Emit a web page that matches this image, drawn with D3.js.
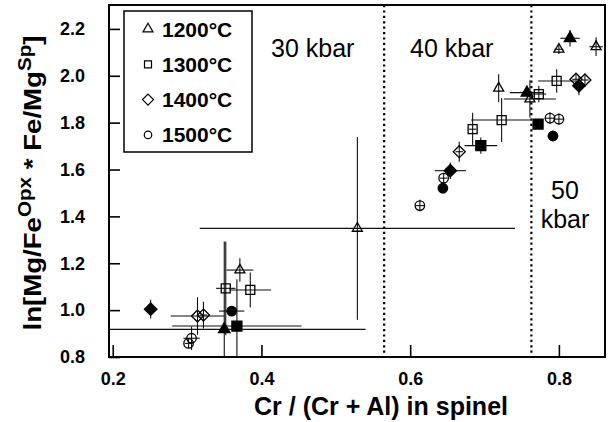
<!DOCTYPE html>
<html>
<head>
<meta charset="utf-8">
<script src="https://cdn.jsdelivr.net/npm/d3@7"></script>
<style>
  body { margin: 0; background: #fff; }
  svg { display: block; }
  text { font-family: "Liberation Sans", Arial, Helvetica, sans-serif; fill: #000; }
</style>
</head>
<body>
<svg id="chart" width="609" height="422"></svg>
<script>
// Axis ticks
const xTicks = [0.2, 0.4, 0.6, 0.8];
const yTicks = [0.8, 1.0, 1.2, 1.4, 1.6, 1.8, 2.0, 2.2];

// Series names (legend order) and marker shapes
const temperatures = ["1200°C", "1300°C", "1400°C", "1500°C"];
const shapes = ["triangle", "square", "diamond", "circle"];

// Pressure field boundaries (Cr#) and field labels
const boundaries = [0.565, 0.763];
const fieldLabels = ["30 kbar", "40 kbar", "50", "kbar"];

// Each row: [Cr/(Cr+Al), ln K, x error, y error, filled (1) / open (0)]
const t1200 = [
  [0.529, 1.349, 0.212, 0.390, 0],
  [0.371, 1.171, 0.018, 0.050, 0],
  [0.350, 0.918, 0.190, 0.375, 1],
  [0.719, 1.947, 0.000, 0.060, 0],
  [0.757, 1.928, 0.023, 0.000, 1],
  [0.761, 1.901, 0.035, 0.080, 0],
  [0.800, 2.113, 0.006, 0.020, 0],
  [0.815, 2.160, 0.013, 0.035, 1],
  [0.850, 2.124, 0.009, 0.040, 0]
];
const t1300 = [
  [0.352, 1.093, 0.013, 0.200, 0],
  [0.385, 1.086, 0.028, 0.075, 0],
  [0.367, 0.932, 0.087, 0.200, 1],
  [0.684, 1.772, 0.005, 0.070, 0],
  [0.723, 1.811, 0.041, 0.094, 0],
  [0.695, 1.702, 0.022, 0.035, 1],
  [0.773, 1.922, 0.010, 0.035, 0],
  [0.772, 1.794, 0.000, 0.000, 1],
  [0.797, 1.978, 0.025, 0.050, 0]
];
const t1400 = [
  [0.251, 1.004, 0.000, 0.040, 1],
  [0.314, 0.975, 0.036, 0.080, 0],
  [0.322, 0.979, 0.005, 0.057, 0],
  [0.666, 1.676, 0.005, 0.043, 0],
  [0.654, 1.595, 0.021, 0.035, 1],
  [0.823, 1.985, 0.005, 0.020, 0],
  [0.835, 1.982, 0.005, 0.020, 0],
  [0.827, 1.957, 0.000, 0.040, 1]
];
const t1500 = [
  [0.306, 0.880, 0.011, 0.050, 0],
  [0.302, 0.858, 0.005, 0.020, 0],
  [0.360, 0.996, 0.017, 0.000, 1],
  [0.645, 1.563, 0.005, 0.020, 0],
  [0.644, 1.520, 0.000, 0.020, 1],
  [0.613, 1.446, 0.006, 0.025, 0],
  [0.788, 1.819, 0.006, 0.025, 0],
  [0.800, 1.815, 0.006, 0.025, 0],
  [0.792, 1.743, 0.000, 0.000, 1]
];
const seriesData = [t1200, t1300, t1400, t1500];

// ---------------------------------------------------------------
const svg = d3.select("#chart");
const plot = { left: 109, right: 605, top: 5, bottom: 357 };

const x = d3.scaleLinear().domain([0.195, 0.862]).range([plot.left, plot.right]);
const y = d3.scaleLinear().domain([0.8, 2.302]).range([plot.bottom, plot.top]);

svg.append("defs").append("clipPath").attr("id", "plotClip")
  .append("rect")
  .attr("x", plot.left).attr("y", plot.top)
  .attr("width", plot.right - plot.left).attr("height", plot.bottom - plot.top);

// Marker path for a given shape and size
function markerPath(shape, s) {
  const p = d3.path();
  if (shape === "triangle") {
    const h = s * 0.87;
    p.moveTo(0, -h * 2 / 3); p.lineTo(s / 2, h / 3); p.lineTo(-s / 2, h / 3); p.closePath();
  } else if (shape === "square") {
    p.rect(-s / 2, -s / 2, s, s);
  } else if (shape === "diamond") {
    const r = s / 2;
    p.moveTo(0, -r); p.lineTo(r, 0); p.lineTo(0, r); p.lineTo(-r, 0); p.closePath();
  } else {
    p.arc(0, 0, s / 2, 0, 2 * Math.PI);
  }
  return p.toString();
}
const openSize = { triangle: 10, square: 9, diamond: 12, circle: 9.5 };
const filledSize = { triangle: 11.5, square: 10, diamond: 12.5, circle: 9.5 };

// Pressure field boundaries (dotted)
svg.append("g").selectAll("line").data(boundaries).join("line")
  .attr("x1", d => x(d)).attr("x2", d => x(d))
  .attr("y1", plot.top).attr("y2", plot.bottom)
  .attr("stroke", "#000").attr("stroke-width", 2.2)
  .attr("stroke-dasharray", "2.2,3.2");

// Axes with inward ticks
const xAxis = d3.axisBottom(x).tickValues(xTicks).tickFormat(d3.format(".1f"))
  .tickSizeInner(-12).tickSizeOuter(0).tickPadding(15);
const gx = svg.append("g").attr("transform", `translate(0,${plot.bottom})`).call(xAxis);
gx.select(".domain").remove();
gx.selectAll("line").attr("stroke", "#000").attr("stroke-width", 1.6);
gx.selectAll("text").attr("font-size", 18).attr("font-weight", "bold")
  .style("font-family", "'Liberation Sans', Arial, sans-serif");

const yAxis = d3.axisLeft(y).tickValues(yTicks).tickFormat(d3.format(".1f"))
  .tickSizeInner(-11).tickSizeOuter(0).tickPadding(24);
const gy = svg.append("g").attr("transform", `translate(${plot.left},0)`).call(yAxis);
gy.select(".domain").remove();
gy.selectAll("line").attr("stroke", "#000").attr("stroke-width", 1.6);
gy.selectAll("text").attr("font-size", 18).attr("font-weight", "bold")
  .style("font-family", "'Liberation Sans', Arial, sans-serif");

// Error bars and markers
const marks = svg.append("g").attr("clip-path", "url(#plotClip)");
seriesData.forEach((rows, i) => {
  const shape = shapes[i];
  const g = marks.append("g");
  rows.forEach(([cx, cy, ex, ey]) => {
    if (ex > 0) g.append("line")
      .attr("x1", x(cx - ex)).attr("x2", x(cx + ex))
      .attr("y1", y(cy)).attr("y2", y(cy))
      .attr("stroke", "#111").attr("stroke-width", 1.1);
    if (ey > 0) g.append("line")
      .attr("x1", x(cx)).attr("x2", x(cx))
      .attr("y1", y(cy - ey)).attr("y2", y(cy + ey))
      .attr("stroke", "#111").attr("stroke-width", 1.1);
  });
  g.selectAll("path.pt").data(rows).join("path").attr("class", "pt")
    .attr("transform", d => `translate(${x(d[0])},${y(d[1])})`)
    .attr("d", d => markerPath(shape, d[4] ? filledSize[shape] : openSize[shape]))
    .attr("fill", d => d[4] ? "#000" : "none")
    .attr("stroke", "#000").attr("stroke-width", 1.3);
});

// Plot frame
svg.append("rect")
  .attr("x", plot.left).attr("y", plot.top)
  .attr("width", plot.right - plot.left).attr("height", plot.bottom - plot.top)
  .attr("fill", "none").attr("stroke", "#000").attr("stroke-width", 2);

// Pressure field labels
svg.append("text").attr("x", 271).attr("y", 57).attr("font-size", 25).text(fieldLabels[0]);
svg.append("text").attr("x", 410).attr("y", 57).attr("font-size", 25).text(fieldLabels[1]);
svg.append("text").attr("x", 565).attr("y", 199).attr("font-size", 25).attr("text-anchor", "middle").text(fieldLabels[2]);
svg.append("text").attr("x", 565).attr("y", 228).attr("font-size", 25).attr("text-anchor", "middle").text(fieldLabels[3]);

// Legend
const legend = svg.append("g");
legend.append("rect").attr("x", 124).attr("y", 11).attr("width", 128).attr("height", 141)
  .attr("fill", "#fff").attr("stroke", "#000").attr("stroke-width", 1.5);
const legendSize = { triangle: 10, square: 7, diamond: 11, circle: 7.5 };
temperatures.forEach((t, i) => {
  const ly = 29 + i * 35.3;
  legend.append("path")
    .attr("transform", `translate(148,${ly})`)
    .attr("d", markerPath(shapes[i], legendSize[shapes[i]]))
    .attr("fill", "none").attr("stroke", "#000").attr("stroke-width", 1.2);
  legend.append("text").attr("x", 162).attr("y", ly + 7.5)
    .attr("font-size", 21).attr("font-weight", "bold").text(t);
});

// Axis titles
svg.append("text").attr("x", 381).attr("y", 415).attr("text-anchor", "middle")
  .attr("font-size", 25).attr("font-weight", "bold").text("Cr / (Cr + Al) in spinel");

const yt = svg.append("text")
  .attr("transform", "translate(41,183) rotate(-90) scale(1.15,1)")
  .attr("text-anchor", "middle").attr("font-size", 24).attr("font-weight", "bold");
yt.append("tspan").text("ln[Mg/Fe");
yt.append("tspan").attr("font-size", 18).attr("dy", -10).text("Opx");
yt.append("tspan").attr("dy", 10).text(" * Fe/Mg");
yt.append("tspan").attr("font-size", 18).attr("dy", -10).text("Sp");
yt.append("tspan").attr("dy", 10).text("]");
</script>
</body>
</html>
